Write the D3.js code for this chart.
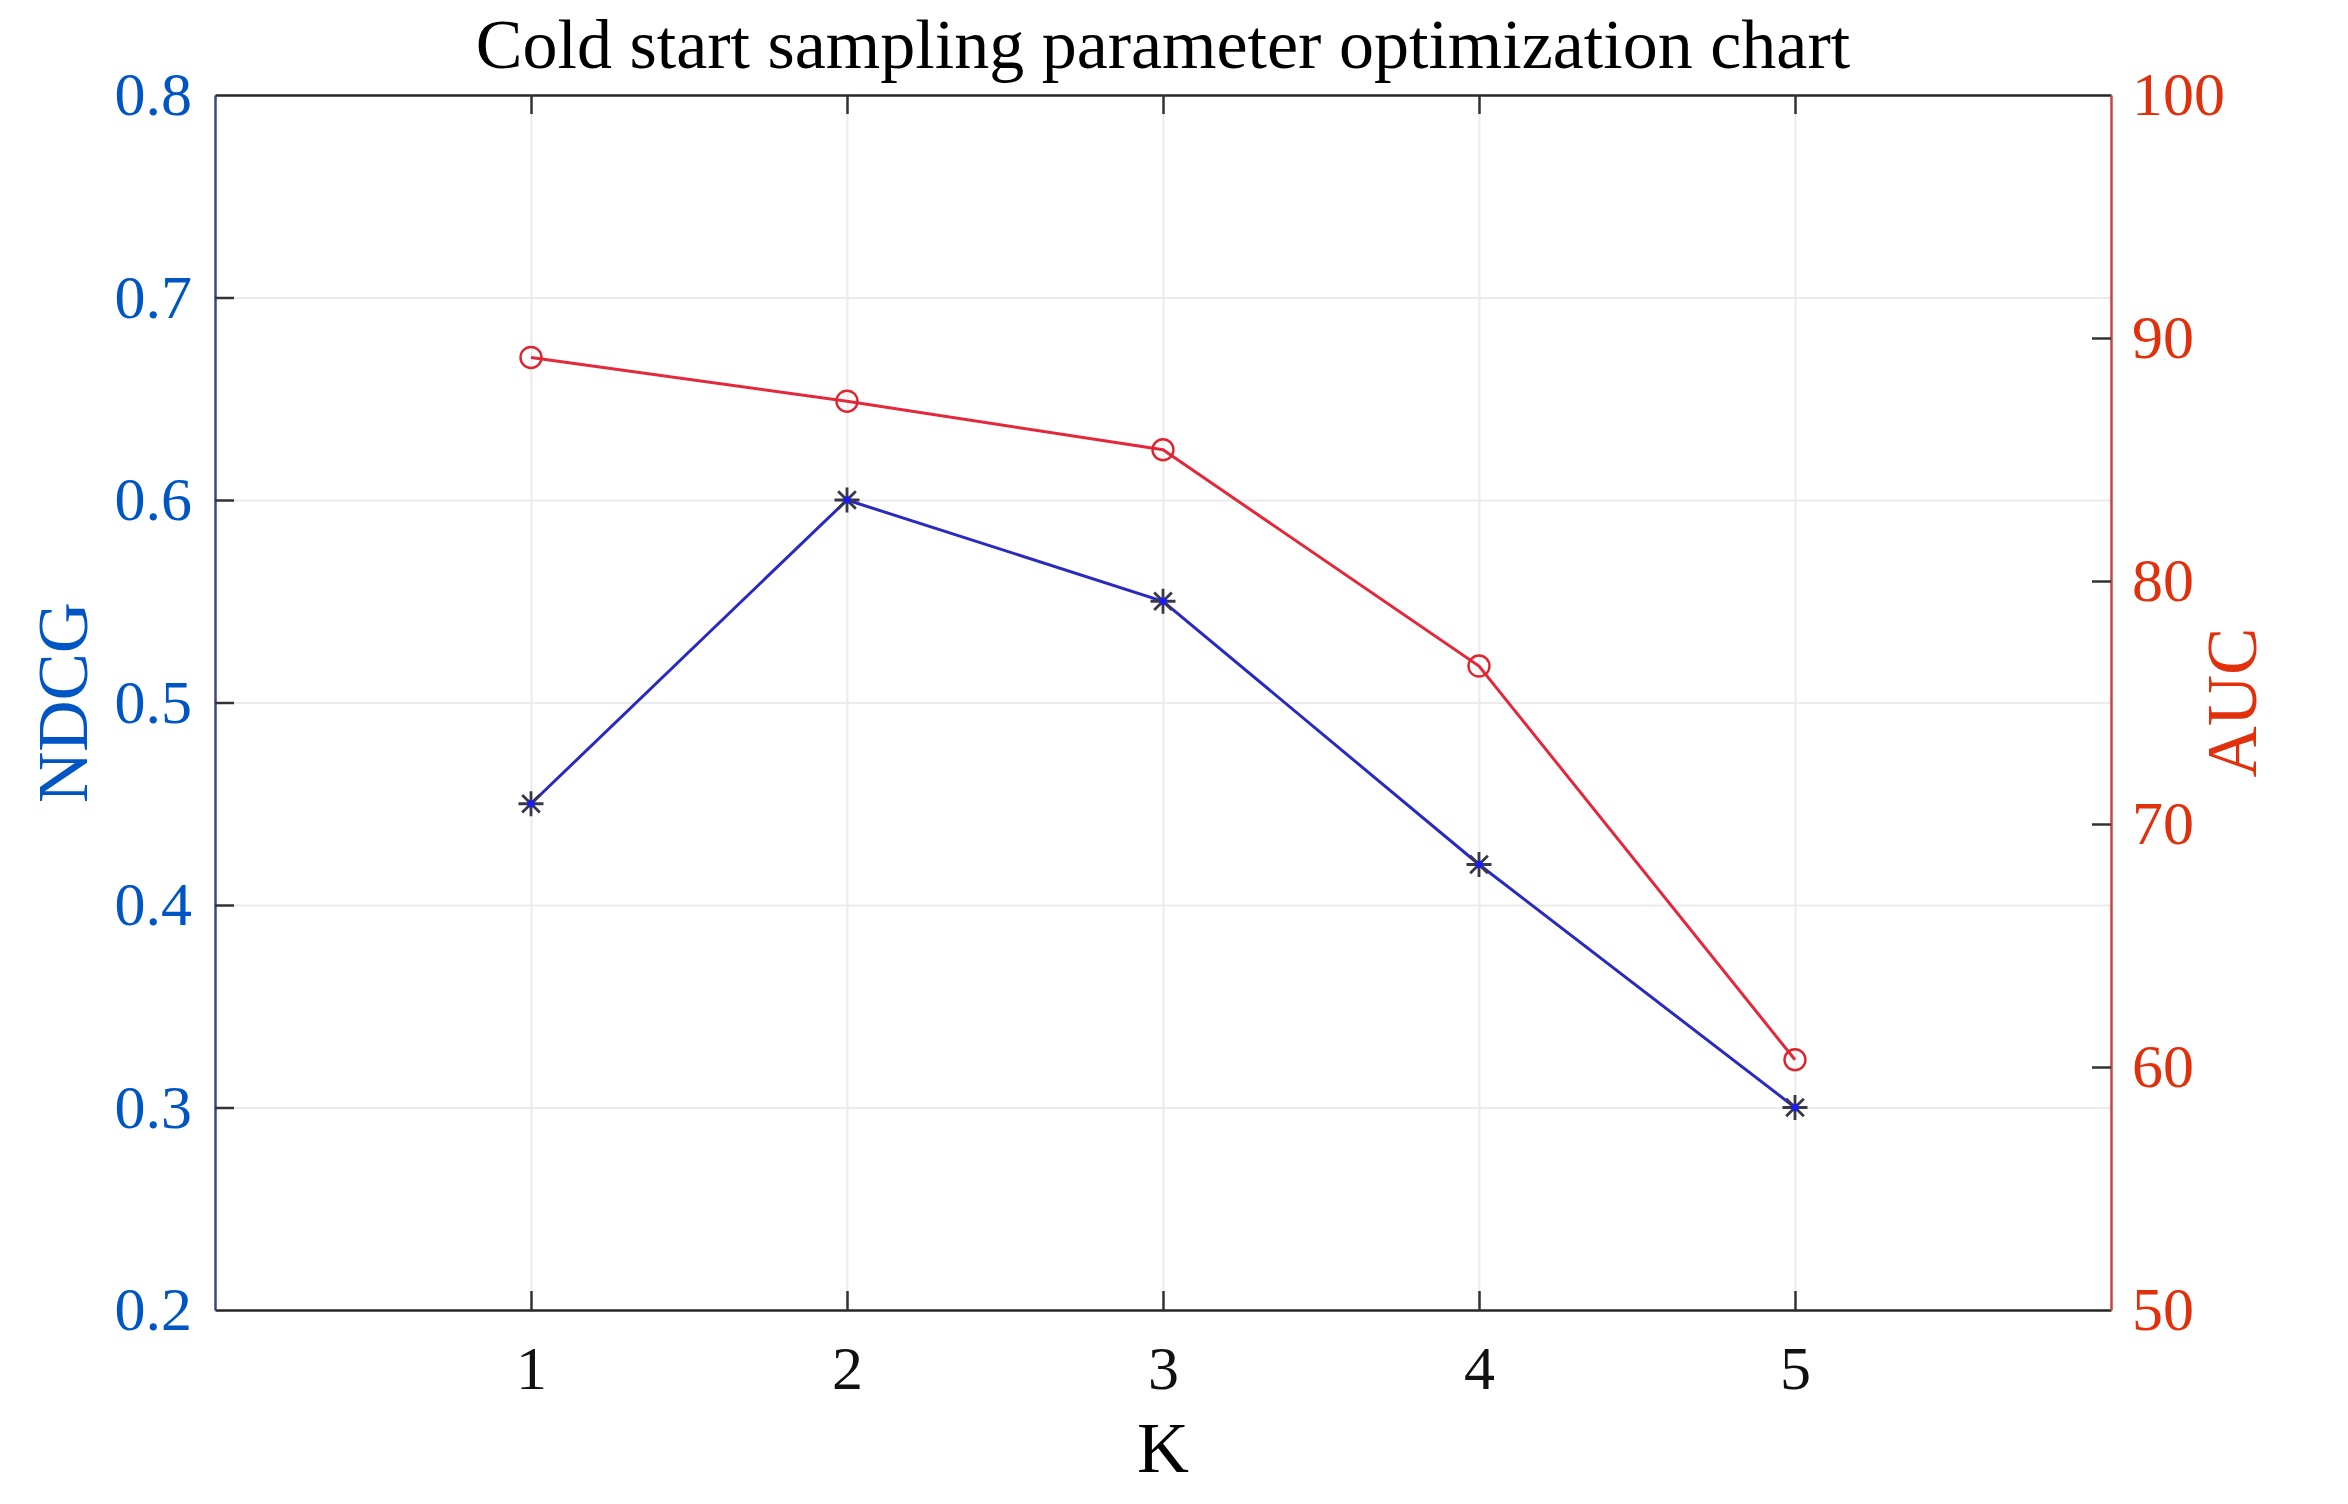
<!DOCTYPE html>
<html>
<head>
<meta charset="utf-8">
<script src="https://cdn.jsdelivr.net/npm/d3@7"></script>
<style>
  body { margin: 0; background: #fff; }
  text { font-family: "Liberation Serif", "Times New Roman", serif; }
</style>
</head>
<body>
<script>
// data
var kValues = [1, 2, 3, 4, 5];
var ndcg = [0.45, 0.60, 0.55, 0.42, 0.30];
var auc = [89.2, 87.4, 85.4, 76.5, 60.3];
var kTicks = [1, 2, 3, 4, 5];
var ndcgTicks = [0.2, 0.3, 0.4, 0.5, 0.6, 0.7, 0.8];
var aucTicks = [50, 60, 70, 80, 90, 100];

var width = 2348,
    height = 1504;

var margin = { top: 95, right: 237, bottom: 194, left: 215 };
var plotW = width - margin.left - margin.right,
    plotH = height - margin.top - margin.bottom;

var blue = "#0055c4",
    red = "#e0300c";

var svg = d3.select("body").append("svg")
    .attr("width", width)
    .attr("height", height)

var g = svg.append("g")
    .attr("transform", "translate(" + margin.left + "," + margin.top + ")")

var x = d3.scaleLinear().domain([0, 6]).range([0, plotW])
var yL = d3.scaleLinear().domain([0.2, 0.8]).range([plotH, 0])
var yR = d3.scaleLinear().domain([50, 100]).range([plotH, 0])

/* grid lines */
g.append("g")
    .attr("transform", "translate(0," + plotH + ")")
    .call(d3.axisBottom(x).tickValues(kTicks).tickSize(-plotH).tickFormat(""))
    .call(function (s) {
        s.select(".domain").remove()
        s.selectAll("line").attr("stroke", "#ebebeb").attr("stroke-width", 2)
    })
g.append("g")
    .call(d3.axisLeft(yL).tickValues(ndcgTicks.slice(1, -1)).tickSize(-plotW).tickFormat(""))
    .call(function (s) {
        s.select(".domain").remove()
        s.selectAll("line").attr("stroke", "#ebebeb").attr("stroke-width", 2)
    })

/* axes, ticks pointing inwards */
var fontTick = 62;

g.append("g")
    .attr("transform", "translate(0," + plotH + ")")
    .call(d3.axisBottom(x).tickValues(kTicks).tickSize(-19).tickSizeOuter(0).tickPadding(35).tickFormat(d3.format("d")))
    .call(function (s) {
        s.select(".domain").attr("stroke", "#262626").attr("stroke-width", 2.5)
        s.selectAll("line").attr("stroke", "#333").attr("stroke-width", 2.5)
        s.selectAll("text").attr("fill", "#111").style("font-size", fontTick + "px")
            .style("font-family", "Liberation Serif")
    })

g.append("g")
    .call(d3.axisTop(x).tickValues(kTicks).tickSize(-19).tickSizeOuter(0).tickFormat(""))
    .call(function (s) {
        s.select(".domain").attr("stroke", "#262626").attr("stroke-width", 2.5)
        s.selectAll("line").attr("stroke", "#333").attr("stroke-width", 2.5)
    })

g.append("g")
    .call(d3.axisLeft(yL).tickValues(ndcgTicks).tickSize(-19).tickSizeOuter(0).tickPadding(23).tickFormat(d3.format(".1f")))
    .call(function (s) {
        s.select(".domain").attr("stroke", "#40447e").attr("stroke-width", 2.5)
        s.selectAll("line").attr("stroke", "#333").attr("stroke-width", 2.5)
            .filter(function (d) { return d == 0.2 || d == 0.8 }).remove()
        s.selectAll("text").attr("fill", blue).style("font-size", fontTick + "px")
            .style("font-family", "Liberation Serif")
    })

g.append("g")
    .attr("transform", "translate(" + plotW + ",0)")
    .call(d3.axisRight(yR).tickValues(aucTicks).tickSize(-19).tickSizeOuter(0).tickPadding(21).tickFormat(d3.format("d")))
    .call(function (s) {
        s.select(".domain").attr("stroke", "#c8453a").attr("stroke-width", 2.5)
        s.selectAll("line").attr("stroke", "#333").attr("stroke-width", 2.5)
            .filter(function (d) { return d == 50 || d == 100 }).remove()
        s.selectAll("text").attr("fill", red).style("font-size", fontTick + "px")
            .style("font-family", "Liberation Serif")
    })

/* lines */
var lineL = d3.line()
    .x(function (d, i) { return x(kValues[i]) })
    .y(function (d) { return yL(d) })
var lineR = d3.line()
    .x(function (d, i) { return x(kValues[i]) })
    .y(function (d) { return yR(d) })

g.append("path")
    .datum(auc)
    .attr("d", lineR)
    .attr("fill", "none")
    .attr("stroke", "#e4283a")
    .attr("stroke-width", 3)

g.append("path")
    .datum(ndcg)
    .attr("d", lineL)
    .attr("fill", "none")
    .attr("stroke", "#2a2ac0")
    .attr("stroke-width", 3)

/* circle markers for AUC */
g.selectAll(".auc-pt")
    .data(auc)
    .enter()
    .append("circle")
    .attr("class", "auc-pt")
    .attr("cx", function (d, i) { return x(kValues[i]) })
    .attr("cy", function (d) { return yR(d) })
    .attr("r", 10.5)
    .attr("fill", "none")
    .attr("stroke", "#e0242e")
    .attr("stroke-width", 2.4)

/* asterisk markers for NDCG */
var s = 12.5, t = s * 0.7071;
var star = "M" + (-s) + ",0L" + s + ",0M0," + (-s) + "L0," + s +
    "M" + (-t) + "," + (-t) + "L" + t + "," + t + "M" + (-t) + "," + t + "L" + t + "," + (-t);

var stars = g.selectAll(".ndcg-pt")
    .data(ndcg)
    .enter()
    .append("g")
    .attr("class", "ndcg-pt")
    .attr("transform", function (d, i) {
        return "translate(" + x(kValues[i]) + "," + yL(d) + ")"
    })
stars.append("path")
    .attr("d", star)
    .attr("stroke", "#383848")
    .attr("stroke-width", 2.8)
stars.append("circle")
    .attr("r", 3.5)
    .attr("fill", "#1a1aff")

/* title and axis labels */
svg.append("text")
    .attr("x", margin.left + plotW / 2)
    .attr("y", 68)
    .attr("text-anchor", "middle")
    .attr("fill", "#000")
    .style("font-size", "70px")
    .text("Cold start sampling parameter optimization chart")

svg.append("text")
    .attr("x", margin.left + plotW / 2)
    .attr("y", 1472)
    .attr("text-anchor", "middle")
    .attr("fill", "#000")
    .style("font-size", "72px")
    .text("K")

svg.append("text")
    .attr("transform", "translate(87," + (margin.top + plotH / 2) + ") rotate(-90)")
    .attr("text-anchor", "middle")
    .attr("fill", blue)
    .style("font-size", "71px")
    .text("NDCG")

svg.append("text")
    .attr("transform", "translate(2256," + (margin.top + plotH / 2) + ") rotate(-90)")
    .attr("text-anchor", "middle")
    .attr("fill", red)
    .style("font-size", "71px")
    .text("AUC")
</script>
</body>
</html>
